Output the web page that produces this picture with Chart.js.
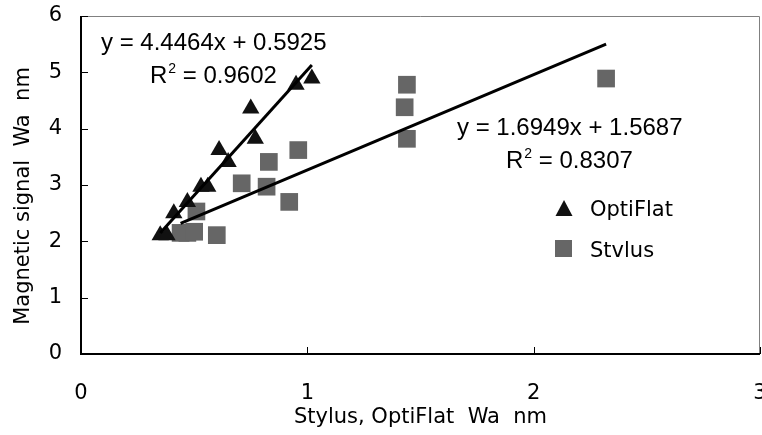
<!DOCTYPE html>
<html>
  <head>
    <meta charset="utf-8" />
    <title>Magnetic signal vs Stylus / OptiFlat</title>
    <script src="https://cdn.jsdelivr.net/npm/chart.js"></script>
    <style>
      html, body { margin: 0; padding: 0; background: #fff; }
      #wrap { position: relative; width: 762px; height: 435px; }
    </style>
  </head>
  <body>
    <div id="wrap"><canvas id="chart" width="762" height="435"></canvas></div>
    <script type="text/javascript">
        // values
        var optiX = [0.35, 0.38, 0.41, 0.47, 0.53, 0.56, 0.61, 0.65, 0.75, 0.77, 0.95, 1.02]
        var optiY = [2.11, 2.11, 2.50, 2.70, 2.97, 2.97, 3.62, 3.41, 4.36, 3.82, 4.78, 4.89]

        var stylusX = [0.44, 0.47, 0.50, 0.51, 0.60, 0.71, 0.82, 0.83, 0.92, 0.96, 1.43, 1.44, 1.44, 2.32]
        var stylusY = [2.15, 2.15, 2.17, 2.53, 2.11, 3.03, 2.97, 3.41, 2.70, 3.62, 4.38, 4.78, 3.82, 4.89]

        // trendline end points
        var optiFitX = [0.35, 1.02]
        var optiFitY = [2.15, 5.13]
        var stylusFitX = [0.44, 2.32]
        var stylusFitY = [2.32, 5.50]

        var xTicks = [0, 1, 2, 3]
        var yTicks = [0, 1, 2, 3, 4, 5, 6]

        var optiLabel = 'OptiFlat'
        var stylusLabel = 'Stvlus'
        var optiEq = ['y = 4.4464x + 0.5925', '0.9602']
        var stylusEq = ['y = 1.6949x + 1.5687', '0.8307']
        var xTitle = 'Stylus, OptiFlat  Wa  nm'
        var yTitle = 'Magnetic signal  Wa  nm'

        var gothic = '"DejaVu Sans", sans-serif'
        var arial = '"Liberation Sans", Arial, sans-serif'

        function pts(xs, ys) {
            var out = []
            for (var i = 0; i < xs.length; i++) out.push({ x: xs[i], y: ys[i] })
            return out
        }

        function drawTri(ctx, cx, cy, w, h, color) {
            ctx.beginPath()
            ctx.moveTo(cx, cy - h / 2)
            ctx.lineTo(cx + w / 2, cy + h / 2)
            ctx.lineTo(cx - w / 2, cy + h / 2)
            ctx.closePath()
            ctx.fillStyle = color
            ctx.fill()
        }

        function drawR2(ctx, x, y, value) {
            ctx.font = '24px ' + arial
            ctx.fillText('R', x, y)
            var w = ctx.measureText('R').width
            ctx.font = '14px ' + arial
            ctx.fillText('2', x + w + 1, y - 10)
            var w2 = ctx.measureText('2').width
            ctx.font = '24px ' + arial
            ctx.fillText(' = ' + value, x + w + w2 + 1, y)
        }

        var frame = {
            id: 'frame',
            beforeDatasetsDraw: function(chart) {
                var ctx = chart.ctx
                var a = chart.chartArea
                var xs = chart.scales.x
                var ys = chart.scales.y
                ctx.save()
                // top and right border
                ctx.strokeStyle = '#808080'
                ctx.lineWidth = 1
                ctx.beginPath()
                ctx.moveTo(a.left, a.top + 0.5)
                ctx.lineTo(a.right - 0.5, a.top + 0.5)
                ctx.lineTo(a.right - 0.5, a.bottom)
                ctx.stroke()
                // axes
                ctx.strokeStyle = '#000'
                ctx.lineWidth = 2
                ctx.beginPath()
                ctx.moveTo(a.left, a.top)
                ctx.lineTo(a.left, a.bottom)
                ctx.lineTo(a.right, a.bottom)
                ctx.stroke()
                // inward tick marks
                ctx.lineWidth = 1
                ctx.beginPath()
                yTicks.forEach(function(v) {
                    var py = Math.round(ys.getPixelForValue(v)) + 0.5
                    ctx.moveTo(a.left, py)
                    ctx.lineTo(a.left + 7, py)
                })
                xTicks.forEach(function(v) {
                    var px = Math.round(xs.getPixelForValue(v)) + 0.5
                    ctx.moveTo(px, a.bottom)
                    ctx.lineTo(px, a.bottom - 7)
                })
                ctx.stroke()
                ctx.restore()
            },
            afterDraw: function(chart) {
                var ctx = chart.ctx
                var a = chart.chartArea
                var xs = chart.scales.x
                ctx.save()
                ctx.fillStyle = '#000'
                ctx.textBaseline = 'alphabetic'
                // x tick labels (the last one runs off the canvas edge as in the original)
                ctx.textAlign = 'center'
                ctx.font = '21px ' + gothic
                xTicks.forEach(function(v) {
                    ctx.fillText(String(v), xs.getPixelForValue(v), 399)
                })
                // axis titles
                ctx.fillText(xTitle, (a.left + a.right) / 2, 423)
                ctx.save()
                ctx.translate(29, 196)
                ctx.rotate(-Math.PI / 2)
                ctx.fillText(yTitle, 0, 0)
                ctx.restore()
                // regression labels
                ctx.textAlign = 'left'
                ctx.font = '24px ' + arial
                ctx.fillText(optiEq[0], 101, 50)
                drawR2(ctx, 150, 83, optiEq[1])
                ctx.font = '24px ' + arial
                ctx.fillText(stylusEq[0], 457, 135)
                drawR2(ctx, 506, 168, stylusEq[1])
                // legend
                drawTri(ctx, 564, 208, 17, 16, '#111')
                ctx.fillStyle = '#666'
                ctx.fillRect(555, 240, 17, 17)
                ctx.fillStyle = '#000'
                ctx.font = '21px ' + gothic
                ctx.fillText(optiLabel, 590, 216)
                ctx.fillText(stylusLabel, 590, 257)
                ctx.restore()
            }
        }

        var ctx = document.getElementById('chart').getContext('2d')
        new Chart(ctx, {
            type: 'scatter',
            data: {
                datasets: [{
                    label: optiLabel + ' fit',
                    type: 'line',
                    data: pts(optiFitX, optiFitY),
                    borderColor: '#000',
                    borderWidth: 3,
                    pointRadius: 0,
                    fill: false,
                    order: 0
                }, {
                    label: stylusLabel + ' fit',
                    type: 'line',
                    data: pts(stylusFitX, stylusFitY),
                    borderColor: '#000',
                    borderWidth: 3,
                    pointRadius: 0,
                    fill: false,
                    order: 0
                }, {
                    label: stylusLabel,
                    data: pts(stylusX, stylusY),
                    pointStyle: 'rect',
                    pointRadius: 12.5,
                    backgroundColor: '#666',
                    borderWidth: 0,
                    order: 2
                }, {
                    label: optiLabel,
                    data: pts(optiX, optiY),
                    pointStyle: 'triangle',
                    pointRadius: 10,
                    backgroundColor: '#111',
                    borderWidth: 0,
                    order: 1
                }]
            },
            options: {
                responsive: false,
                animation: false,
                layout: {
                    autoPadding: false,
                    padding: { top: 16, right: 2, left: 0, bottom: 0 }
                },
                plugins: {
                    legend: { display: false },
                    tooltip: { enabled: false }
                },
                scales: {
                    x: {
                        type: 'linear',
                        min: 0,
                        max: 3,
                        grid: { display: false, drawTicks: false },
                        border: { display: false },
                        ticks: { stepSize: 1, display: false },
                        afterFit: function(scale) {
                            scale.height = 81
                        }
                    },
                    y: {
                        type: 'linear',
                        min: 0,
                        max: 6,
                        grid: { display: false, drawTicks: false },
                        border: { display: false },
                        ticks: {
                            stepSize: 1,
                            padding: 19,
                            color: '#000',
                            font: { family: gothic, size: 21 }
                        },
                        afterFit: function(scale) {
                            scale.width = 81
                            scale.paddingTop = 0
                            scale.paddingBottom = 0
                        }
                    }
                }
            },
            plugins: [frame]
        })
    </script>
  </body>
</html>
